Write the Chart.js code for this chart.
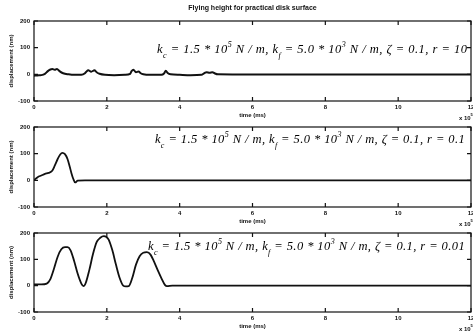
<!DOCTYPE html>
<html>
<head>
<meta charset="utf-8">
<script src="https://cdn.jsdelivr.net/npm/chart.js@4.4.1/dist/chart.umd.min.js"></script>
<style>
  html, body { margin: 0; padding: 0; background: #fff; }
  #wrap { position: relative; width: 473px; height: 335px; overflow: hidden; }
  canvas { position: absolute; left: 0; }
</style>
</head>
<body>
<div id="wrap">
  <canvas id="c1" width="473" height="121" style="top:0px"></canvas>
  <canvas id="c2" width="473" height="105" style="top:121px"></canvas>
  <canvas id="c3" width="473" height="109" style="top:226px"></canvas>
</div>
<script>
// tick labels
const xTicks = [0, 2, 4, 6, 8, 10, 12];
const yTicks = [-100, 0, 100, 200];

// r = 10
const timeR10 = [0, 0.1, 0.2, 0.3, 0.38, 0.45, 0.5, 0.57, 0.63, 0.7, 0.8, 0.95, 1.1, 1.3, 1.4, 1.45, 1.49, 1.57, 1.66, 1.72,
  1.8, 1.95, 2.2, 2.5, 2.64, 2.68, 2.73, 2.8, 2.87, 2.93, 3.0, 3.2, 3.5, 3.57, 3.62, 3.67, 3.75, 4.0, 4.3, 4.6,
  4.67, 4.74, 4.82, 4.9, 4.97, 5.05, 6, 8, 10, 12];
const dispR10 = [-5, -4, -3, 2, 12, 18, 20, 17, 20, 12, 4, 0, -2, -2, 4, 12, 15, 10, 15, 8,
  2, -2, -3, -2, 2, 12, 17, 8, 11, 4, 0, -2, -2, 3, 13, 5, 0, -2, -3, -2,
  4, 8, 6, 8, 3, 0, -1, -1, -1, -1];

// r = 0.1
const timeR01 = [0, 0.1, 0.2, 0.3, 0.4, 0.5, 0.57, 0.65, 0.72, 0.78, 0.85, 0.92, 0.98, 1.03, 1.08, 1.13, 1.2, 1.4,
  2, 4, 6, 8, 10, 12];
const dispR01 = [0, 12, 18, 24, 28, 36, 55, 80, 97, 103, 98, 80, 52, 26, 5, -8, -1, 0,
  0, 0, 0, 0, 0, 0];

// r = 0.01
const timeR001 = [0, 0.2, 0.35, 0.45, 0.55, 0.65, 0.75, 0.85, 0.92, 1.0, 1.1, 1.2, 1.3, 1.36, 1.42, 1.52, 1.62, 1.72, 1.82, 1.92,
  1.98, 2.05, 2.15, 2.25, 2.35, 2.45, 2.52, 2.6, 2.7, 2.8, 2.9, 3.0, 3.1, 3.2, 3.3, 3.4, 3.5, 3.6, 3.65, 3.8,
  5, 8, 12];
const dispR001 = [5, 5, 8, 25, 65, 110, 138, 146, 146, 135, 95, 45, 8, -2, 10, 60, 120, 165, 182, 188,
  186, 175, 135, 80, 30, 0, -3, -2, 30, 80, 112, 125, 127, 118, 90, 58, 28, 2, -2, 0,
  0, 0, 0];

const INK = '#111';
const SANS = "'Liberation Sans', Arial, sans-serif";
const TICK_FONT = { family: SANS, size: 6, weight: 'bold' };

// text inside each panel: [text, 0 normal / 1 subscript / -1 superscript]
function paramText(r) {
  return [['k', 0], ['c', 1], [' = 1.5 * 10', 0], ['5', -1], [' N / m, k', 0], ['f', 1],
    [' = 5.0 * 10', 0], ['3', -1], [' N / m, \u03b6 = 0.1, r = ' + r, 0]];
}
// x, y: where the text starts (data units); xEnd: where it should end
const notes = {
  c1: { x: 3.38, y: 80, xEnd: 11.9, parts: paramText('10') },
  c2: { x: 3.32, y: 139, xEnd: 11.84, parts: paramText('0.1') },
  c3: { x: 3.13, y: 136, xEnd: 11.84, parts: paramText('0.01') }
};

function partFont(kind) {
  return kind === 0 ? "italic 12.5px 'Liberation Serif', serif" : "italic 8px 'Liberation Serif', serif";
}

const matlabBox = {
  id: 'matlabBox',
  afterDatasetsDraw(chart) {
    const { ctx, chartArea: a, scales: { x, y } } = chart;
    ctx.save();
    ctx.strokeStyle = INK;
    ctx.lineWidth = 1.2;
    ctx.strokeRect(a.left, a.top, a.right - a.left, a.bottom - a.top);
    ctx.beginPath();
    x.ticks.forEach(t => {
      const px = x.getPixelForValue(t.value);
      ctx.moveTo(px, a.bottom); ctx.lineTo(px, a.bottom - 4);
      ctx.moveTo(px, a.top); ctx.lineTo(px, a.top + 4);
    });
    y.ticks.forEach(t => {
      const py = y.getPixelForValue(t.value);
      ctx.moveTo(a.left, py); ctx.lineTo(a.left + 4, py);
      ctx.moveTo(a.right, py); ctx.lineTo(a.right - 4, py);
    });
    ctx.stroke();

    // x 10^5 exponent label
    ctx.fillStyle = INK;
    ctx.textBaseline = 'alphabetic';
    ctx.font = `bold 6px ${SANS}`;
    ctx.fillText('x 10', a.right - 12, a.bottom + 19);
    ctx.font = `bold 4px ${SANS}`;
    ctx.fillText('5', a.right - 0.5, a.bottom + 15);

    // parameter text, spread to fill its span
    const n = notes[chart.canvas.id];
    if (n) {
      let cx = x.getPixelForValue(n.x);
      const by = y.getPixelForValue(n.y);
      const target = x.getPixelForValue(n.xEnd) - cx;
      let natural = 0, chars = 0;
      n.parts.forEach(([t, kind]) => {
        ctx.font = partFont(kind);
        natural += ctx.measureText(t).width;
        chars += t.length;
      });
      const spacing = Math.max(0, (target - natural) / chars);
      ctx.fillStyle = '#000';
      n.parts.forEach(([t, kind]) => {
        ctx.font = partFont(kind);
        const dy = kind === 1 ? 5 : kind === -1 ? -6 : 0;
        let w = 0;
        for (const ch of t) {
          ctx.fillText(ch, cx + w, by + dy);
          w += ctx.measureText(ch).width + spacing;
        }
        cx += w;
      });
    }
    ctx.restore();
  }
};

function buildChart(id, times, values, opts) {
  const ctx = document.getElementById(id).getContext('2d');
  return new Chart(ctx, {
    type: 'line',
    data: {
      datasets: [{
        data: times.map((t, i) => ({ x: t, y: values[i] })),
        borderColor: INK,
        borderWidth: opts.lineWidth,
        pointRadius: 0,
        cubicInterpolationMode: 'monotone',
        fill: false
      }]
    },
    options: {
      responsive: false,
      animation: false,
      devicePixelRatio: 1,
      layout: { padding: { top: opts.padTop, right: 2, left: 0, bottom: 0 } },
      plugins: {
        legend: { display: false },
        tooltip: { enabled: false },
        title: opts.title ? {
          display: true,
          text: opts.title,
          fullSize: false,
          color: INK,
          font: { family: SANS, size: 7, weight: 'bold' },
          padding: { top: 4, bottom: 8.6 }
        } : { display: false }
      },
      scales: {
        x: {
          type: 'linear', min: 0, max: 12,
          afterBuildTicks: s => { s.ticks = xTicks.map(v => ({ value: v })); },
          grid: { display: false, drawTicks: false },
          border: { display: false },
          ticks: { font: TICK_FONT, color: INK, padding: 3, maxRotation: 0, autoSkip: false },
          title: { display: true, text: 'time (ms)', font: TICK_FONT, color: INK, padding: { top: 0, bottom: opts.xTitlePad } },
          afterFit: s => { s.height = opts.xHeight; s.paddingLeft = 0; s.paddingRight = 0; }
        },
        y: {
          type: 'linear', min: -100, max: 200,
          afterBuildTicks: s => { s.ticks = yTicks.map(v => ({ value: v })); },
          grid: { display: false, drawTicks: false },
          border: { display: false },
          ticks: { font: TICK_FONT, color: INK, padding: 4 },
          title: { display: true, text: 'displacement (nm)', font: TICK_FONT, color: INK, padding: { top: 7.4, bottom: 0 } },
          afterFit: s => { s.width = 34; s.paddingTop = 0; s.paddingBottom = 0; }
        }
      }
    },
    plugins: [matlabBox]
  });
}

buildChart('c1', timeR10, dispR10, { title: 'Flying height for practical disk surface', padTop: 0, xHeight: 20, xTitlePad: 2.4, lineWidth: 2 });
buildChart('c2', timeR01, dispR01, { padTop: 6, xHeight: 19, xTitlePad: 1.4, lineWidth: 1.8 });
buildChart('c3', timeR001, dispR001, { padTop: 7, xHeight: 23, xTitlePad: 4.7, lineWidth: 1.8 });
</script>
</body>
</html>
